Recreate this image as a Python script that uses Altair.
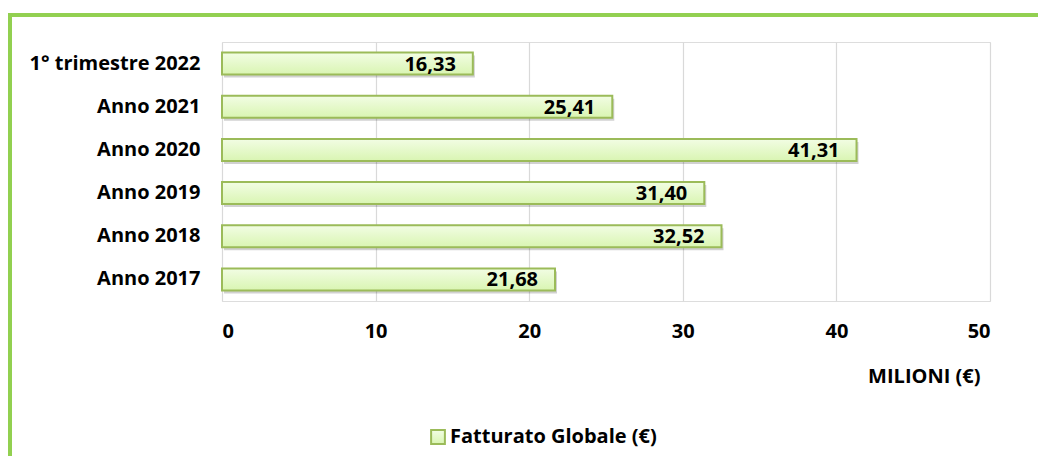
import altair as alt
import pandas as pd

categories = ["1° trimestre 2022", "Anno 2021", "Anno 2020", "Anno 2019", "Anno 2018", "Anno 2017"]
values = [16.33, 25.41, 41.31, 31.40, 32.52, 21.68]
series_name = "Fatturato Globale (€)"
x_ticks = [0, 10, 20, 30, 40, 50]

df = pd.DataFrame({
    "periodo": categories,
    "valore": values,
    "etichetta": [f"{v:.2f}".replace(".", ",") for v in values],
    "serie": [series_name] * len(categories),
})

FONT = "Open Sans"
FS = 20
GREEN_STROKE = "#9BBB59"
FRAME = "#92D050"

y_enc = alt.Y("periodo:N", sort=categories, title=None,
              scale=alt.Scale(paddingInner=0.49, paddingOuter=0.245),
              axis=alt.Axis(domain=False, ticks=False, grid=False, labelPadding=22,
                            labelFont=FONT, labelFontSize=FS, labelFontWeight="bold",
                            labelColor="#000000"))
x_enc = alt.X("valore:Q", title="MILIONI (€)",
              scale=alt.Scale(domain=[0, 50], nice=False),
              axis=alt.Axis(values=x_ticks, domain=False, ticks=False, grid=True,
                            gridColor="#D9D9D9", gridWidth=1.2,
                            labelPadding=20, labelFont=FONT, labelFontSize=FS,
                            labelFontWeight="bold", labelColor="#000000",
                            titleFont=FONT, titleFontSize=FS, titleFontWeight="bold",
                            titleColor="#000000", titleAlign="right", titleX=758,
                            titleY=75, titleBaseline="middle"))

base = alt.Chart(df)

frame_top = base.mark_rule(color=FRAME, strokeWidth=3).encode(
    x=alt.value(-214), x2=alt.value(816), y=alt.value(-27), y2=alt.value(-27)
)
frame_left = base.mark_rule(color=FRAME, strokeWidth=4).encode(
    x=alt.value(-212), x2=alt.value(-212), y=alt.value(-28.5), y2=alt.value(420)
)

shadow = base.mark_bar(color="#000000", opacity=0.18, xOffset=2, yOffset=3).encode(
    x=x_enc, y=y_enc
)

bars = base.mark_bar(
    fill={"gradient": "linear", "x1": 0, "x2": 0, "y1": 0, "y2": 1,
          "stops": [{"offset": 0, "color": "#F2FDE4"}, {"offset": 1, "color": "#D9F5B2"}]},
    strokeWidth=2,
).encode(
    x=x_enc, y=y_enc,
    stroke=alt.Stroke("serie:N", title=None,
                      scale=alt.Scale(range=[GREEN_STROKE]),
                      legend=alt.Legend(orient="none", legendX=206, legendY=385,
                                        symbolType="square", symbolSize=190,
                                        symbolFillColor="#E2F7C6", symbolStrokeWidth=2,
                                        labelFont=FONT, labelFontSize=FS,
                                        labelFontWeight="bold", labelColor="#000000",
                                        labelOffset=2, labelLimit=0)),
)

labels = base.mark_text(align="right", baseline="middle", dx=-17, dy=1,
                        font=FONT, fontSize=FS, fontWeight="bold", color="#000000").encode(
    x="valore:Q", y=alt.Y("periodo:N", sort=categories), text="etichetta:N"
)

chart = alt.layer(frame_top, frame_left, shadow, bars, labels).properties(
    width=768, height=259,
    autosize=alt.AutoSizeParams(type="none"),
    padding={"left": 214, "top": 34, "right": 48, "bottom": 155},
).configure_view(stroke=None).configure(background="#FFFFFF")

chart.save("out.html", embed_options={"renderer": "svg", "actions": False})
